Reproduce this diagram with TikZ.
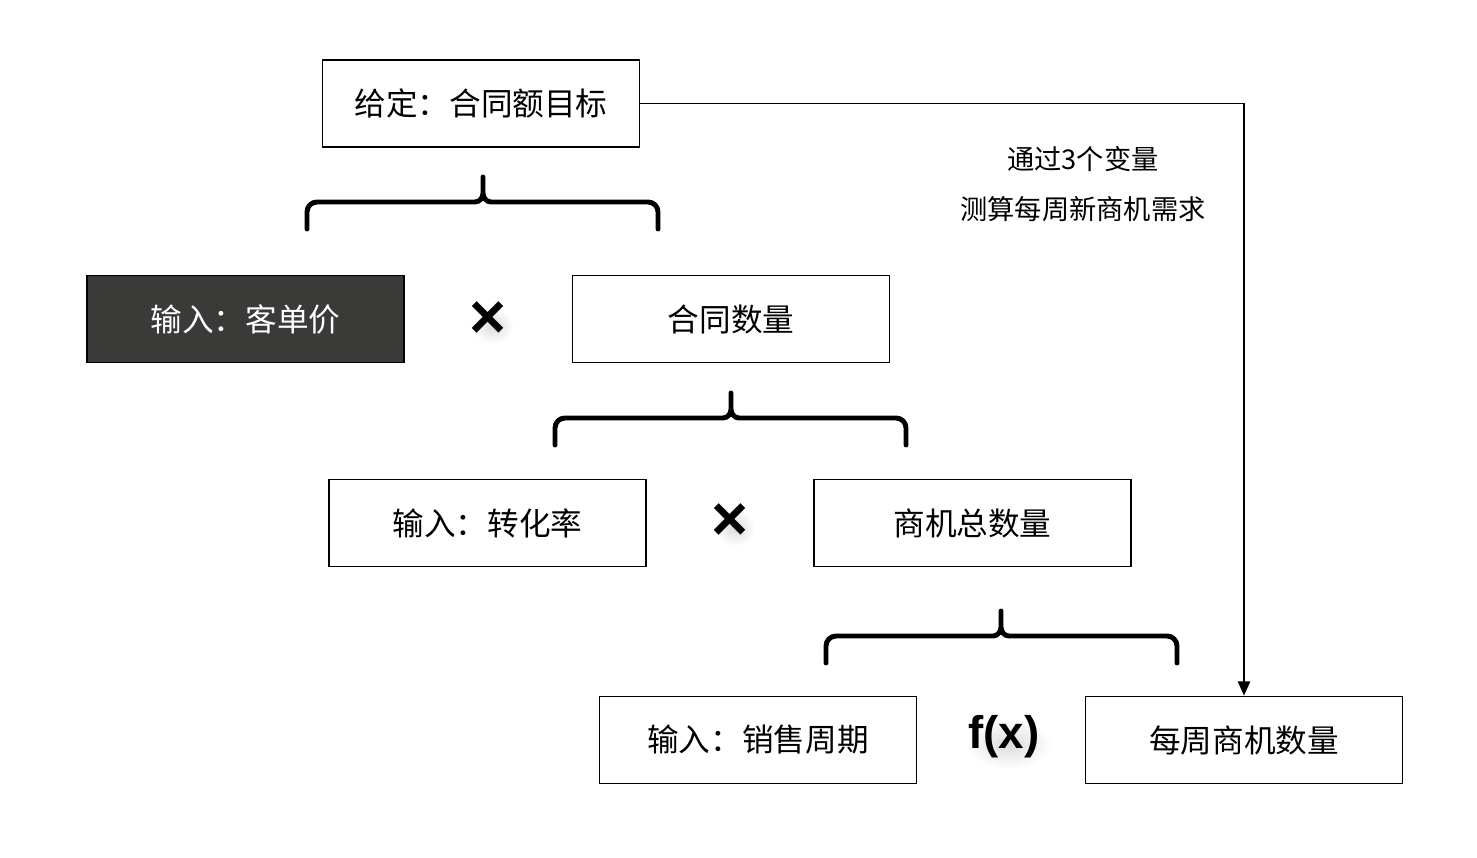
\documentclass[tikz,border=0pt]{standalone}
\usepackage{fontspec}
\setmainfont{Noto Sans CJK SC}
\newfontfamily\arialfont{Liberation Sans}
\usetikzlibrary{positioning}
\usetikzlibrary{arrows.meta}
\definecolor{boxdark}{RGB}{58,58,56}

% curly bracket: left x, tip x, right x, level y
\newcommand{\curly}[4]{%
  \draw[bracket] (#1,#4-0.54) -- (#1,#4-0.2) to[out=90,in=180] (#1+0.2,#4) -- (#2-0.16,#4) to[out=0,in=-90] (#2,#4+0.18) -- (#2,#4+0.5)
    (#3,#4-0.54) -- (#3,#4-0.2) to[out=90,in=0] (#3-0.2,#4) -- (#2+0.16,#4) to[out=180,in=-90] (#2,#4+0.18);
}

\begin{document}
\begin{tikzpicture}[
    box/.style={draw, rectangle, line width=1.1pt, minimum width=6.34cm, minimum height=1.74cm, font=\fontsize{18}{20}\selectfont},
    darkbox/.style={box, fill=boxdark, text=white},
    bracket/.style={line width=2.8pt, line cap=round},
    times/.style={font=\arialfont\bfseries\fontsize{36}{36}\selectfont},
    soft/.style={inner color=black!14, outer color=white},
    link/.style={-{Triangle[width=7pt,length=8pt]}, line width=0.6pt}
  ]
  \useasboundingbox (0,0) rectangle (29.54,17.14);

  % soft shadows
  \shade[soft] (9.86,10.62) ellipse (0.42cm and 0.36cm);
  \shade[soft] (14.70,6.58) ellipse (0.42cm and 0.36cm);
  \shade[soft] (20.18,2.26) ellipse (0.85cm and 0.5cm);

  \node[box] (goal) at (9.62,15.07) {给定：合同额目标};

  \node[darkbox] (price) at (4.91,10.76) {输入：客单价};
  \node[box, right of=price, node distance=9.71cm] (deals) {合同数量};
  \node[times] (mult1) at (9.76,10.74) {×};

  \node[box] (rate) at (9.75,6.68) {输入：转化率};
  \node[box, right of=rate, node distance=9.7cm] (leads) {商机总数量};
  \node[times] (mult2) at (14.6,6.70) {×};

  \node[box] (cycle) at (15.16,2.34) {输入：销售周期};
  \node[box, right of=cycle, node distance=9.72cm] (weekly) {每周商机数量};
  \node[font=\arialfont\bfseries\fontsize{26}{26}\selectfont] (fx) at (20.08,2.40) {f(x)};

  \node[align=center, font=\fontsize{15.5}{28.5}\selectfont] (note) at (21.66,13.46) {通过3个变量\\测算每周新商机需求};

  % brackets
  \curly{6.14}{9.66}{13.16}{13.10}
  \curly{11.10}{14.62}{18.12}{8.78}
  \curly{16.52}{20.02}{23.54}{4.42}

  \draw[link] (goal.east) -| (weekly.north);
\end{tikzpicture}
\end{document}
